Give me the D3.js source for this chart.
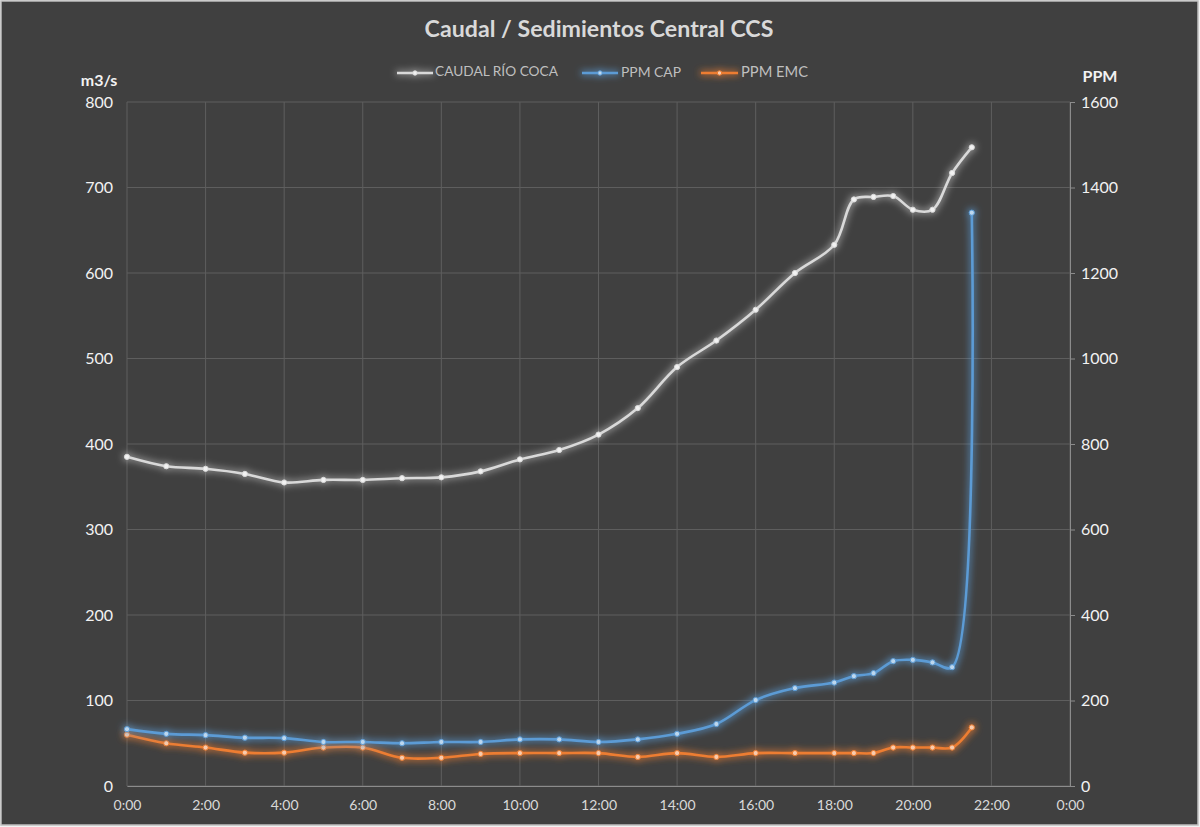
<!DOCTYPE html>
<html>
<head>
<meta charset="utf-8">
<script src="https://cdn.jsdelivr.net/npm/d3@7"></script>
<style>
  html, body { margin: 0; padding: 0; background: #ffffff; }
  svg { display: block; }
</style>
</head>
<body>
<script>
// ---- data ----
const times = ["0:00","1:00","2:00","3:00","4:00","5:00","6:00","7:00","8:00","9:00","10:00","11:00","12:00","13:00","14:00","15:00","16:00","17:00","18:00","18:30","19:00","19:30","20:00","20:30","21:00","21:30"];
const caudal = [385,374,371,365,355,358,358,360,361,368,382,393,411,442,490,521,557,600,633,686,689,690,674,674,717,747];
const ppmCap = [133,122,119,113,112,103,103,100,103,103,109,109,103,109,122,145,201,229,242,257,264,292,295,289,278,1341];
const ppmEmc = [120,100,90,78,78,90,90,66,66,75,77,77,77,68,77,68,77,77,77,77,77,90,90,90,90,137];
const xTicks = [0,2,4,6,8,10,12,14,16,18,20,22,24];
const leftTicks = [0,100,200,300,400,500,600,700,800];
const rightTicks = [0,200,400,600,800,1000,1200,1400,1600];
const seriesNames = ["CAUDAL RÍO COCA","PPM CAP","PPM EMC"];
const title = "Caudal / Sedimientos Central CCS";

const W = 1200, H = 827;
const M = {left: 127, right: 1070, top: 102, bottom: 786};
const FONT = "Lato, 'Open Sans', sans-serif";

const hours = times.map(t => { const [h, m] = t.split(":").map(Number); return h + m / 60; });

const svg = d3.select("body").append("svg").attr("width", W).attr("height", H);

// background + border
svg.append("rect").attr("x", 0).attr("y", 0).attr("width", W).attr("height", H).attr("fill", "#f2f2f2");
svg.append("rect").attr("x", 1).attr("y", 1).attr("width", 1197).attr("height", 824)
  .attr("fill", "#404040").attr("stroke", "#bfbfbf").attr("stroke-width", 1.5);

const defs = svg.append("defs");
function glow(id, color, op) {
  const f = defs.append("filter").attr("id", id).attr("filterUnits", "userSpaceOnUse")
    .attr("x", 0).attr("y", 0).attr("width", W).attr("height", H);
  f.append("feMorphology").attr("in", "SourceAlpha").attr("operator", "dilate").attr("radius", 1).attr("result", "d");
  f.append("feGaussianBlur").attr("in", "d").attr("stdDeviation", 3.5).attr("result", "b");
  f.append("feFlood").attr("flood-color", color).attr("flood-opacity", op);
  f.append("feComposite").attr("in2", "b").attr("operator", "in").attr("result", "g");
  const m = f.append("feMerge");
  m.append("feMergeNode").attr("in", "g");
  m.append("feMergeNode").attr("in", "SourceGraphic");
}
glow("gw", "#e0e0e0", 0.55);
glow("gb", "#5b9bd5", 0.8);
glow("go", "#ed7d31", 0.8);

const x = d3.scaleLinear().domain([0, 24]).range([M.left, M.right]);
const yL = d3.scaleLinear().domain([0, 800]).range([M.bottom, M.top]);
const yR = d3.scaleLinear().domain([0, 1600]).range([M.bottom, M.top]);

// gridlines
const grid = svg.append("g");
grid.selectAll("line.h").data(leftTicks).join("line")
  .attr("x1", M.left).attr("x2", M.right)
  .attr("y1", d => yL(d)).attr("y2", d => yL(d))
  .attr("stroke", "#5e5e5e").attr("stroke-width", 1);
grid.selectAll("line.v").data(xTicks).join("line")
  .attr("x1", d => x(d)).attr("x2", d => x(d))
  .attr("y1", M.top).attr("y2", M.bottom)
  .attr("stroke", "#5e5e5e").attr("stroke-width", 1);

// axes
const fmtHour = d => (d % 24) + ":00";
const xAxis = svg.append("g").attr("transform", `translate(0,${M.bottom})`)
  .call(d3.axisBottom(x).tickValues(xTicks).tickFormat(fmtHour).tickSize(0).tickPadding(14));
xAxis.select(".domain").attr("stroke", "#8c8c8c");
xAxis.selectAll("text").attr("fill", "#d9d9d9").style("font-family", FONT).style("font-size", "14px");

const yAxisL = svg.append("g").attr("transform", `translate(${M.left},0)`)
  .call(d3.axisLeft(yL).tickValues(leftTicks).tickFormat(d3.format("d")).tickSize(0).tickPadding(14));
yAxisL.select(".domain").remove();
yAxisL.selectAll("text").attr("fill", "#f2f2f2").style("font-family", FONT).style("font-size", "16px");

const yAxisR = svg.append("g").attr("transform", `translate(${M.right},0)`)
  .call(d3.axisRight(yR).tickValues(rightTicks).tickFormat(d3.format("d")).tickSize(5).tickPadding(6));
yAxisR.select(".domain").attr("stroke", "#8c8c8c");
yAxisR.selectAll(".tick line").attr("stroke", "#8c8c8c");
yAxisR.selectAll("text").attr("fill", "#f2f2f2").style("font-family", FONT).style("font-size", "16px");

// axis titles
svg.append("text").attr("x", 99).attr("y", 82).attr("text-anchor", "middle").attr("dominant-baseline", "middle")
  .attr("fill", "#f2f2f2").style("font-family", FONT).style("font-weight", "bold").style("font-size", "16px").text("m3/s");
svg.append("text").attr("x", 1100).attr("y", 78).attr("text-anchor", "middle").attr("dominant-baseline", "middle")
  .attr("fill", "#f2f2f2").style("font-family", FONT).style("font-weight", "bold").style("font-size", "16px").text("PPM");

// fit text to a target width
function fit(sel, target) {
  const n = sel.node();
  const fs = parseFloat(sel.style("font-size"));
  const w = n.getComputedTextLength();
  if (w > 0) sel.style("font-size", (fs * target / w) + "px");
}

// title
const t = svg.append("text").attr("x", 599).attr("y", 31).attr("text-anchor", "middle").attr("dominant-baseline", "middle")
  .attr("fill", "#d9d9d9").style("font-family", FONT).style("font-weight", "bold").style("font-size", "21px").text(title);
fit(t, 349);

// series
const series = [
  {name: seriesNames[0], vals: caudal, y: yL, color: "#d9d9d9", fill: "#f2f2f2", f: "gw"},
  {name: seriesNames[1], vals: ppmCap, y: yR, color: "#5b9bd5", fill: "#bdd7ee", f: "gb"},
  {name: seriesNames[2], vals: ppmEmc, y: yR, color: "#ed7d31", fill: "#f8cbad", f: "go"}
];

const order = [2, 1, 0];
order.forEach(i => {
  const s = series[i];
  const g = svg.append("g").attr("filter", `url(#${s.f})`);
  const line = d3.line().x((d, k) => x(hours[k])).y(d => s.y(d)).curve(d3.curveCatmullRom.alpha(0.5));
  g.append("path").datum(s.vals).attr("d", line)
    .attr("fill", "none").attr("stroke", s.color).attr("stroke-width", 2.6).attr("stroke-linejoin", "round");
  g.selectAll("circle").data(s.vals).join("circle")
    .attr("cx", (d, k) => x(hours[k])).attr("cy", d => s.y(d)).attr("r", 2.6)
    .attr("fill", s.fill).attr("stroke", s.color).attr("stroke-width", 1);
});

// legend
const legendPos = [
  {lx: 397, lw: 36, tx: 435, tw: 123},
  {lx: 582, lw: 36, tx: 621, tw: 60},
  {lx: 701, lw: 37, tx: 741, tw: 67}
];
const lg = svg.append("g");
series.forEach((s, i) => {
  const p = legendPos[i];
  const y0 = 73;
  const g = lg.append("g").attr("filter", `url(#${s.f})`);
  g.append("line").attr("x1", p.lx).attr("x2", p.lx + p.lw).attr("y1", y0).attr("y2", y0)
    .attr("stroke", s.color).attr("stroke-width", 2.6);
  g.append("circle").attr("cx", p.lx + p.lw / 2).attr("cy", y0).attr("r", 2.2)
    .attr("fill", s.fill).attr("stroke", s.color);
  const tx = lg.append("text").attr("x", p.tx).attr("y", y0).attr("dominant-baseline", "middle")
    .attr("fill", "#bfbfbf").style("font-family", FONT).style("font-size", "13px").text(s.name);
  fit(tx, p.tw);
});
</script>
</body>
</html>
